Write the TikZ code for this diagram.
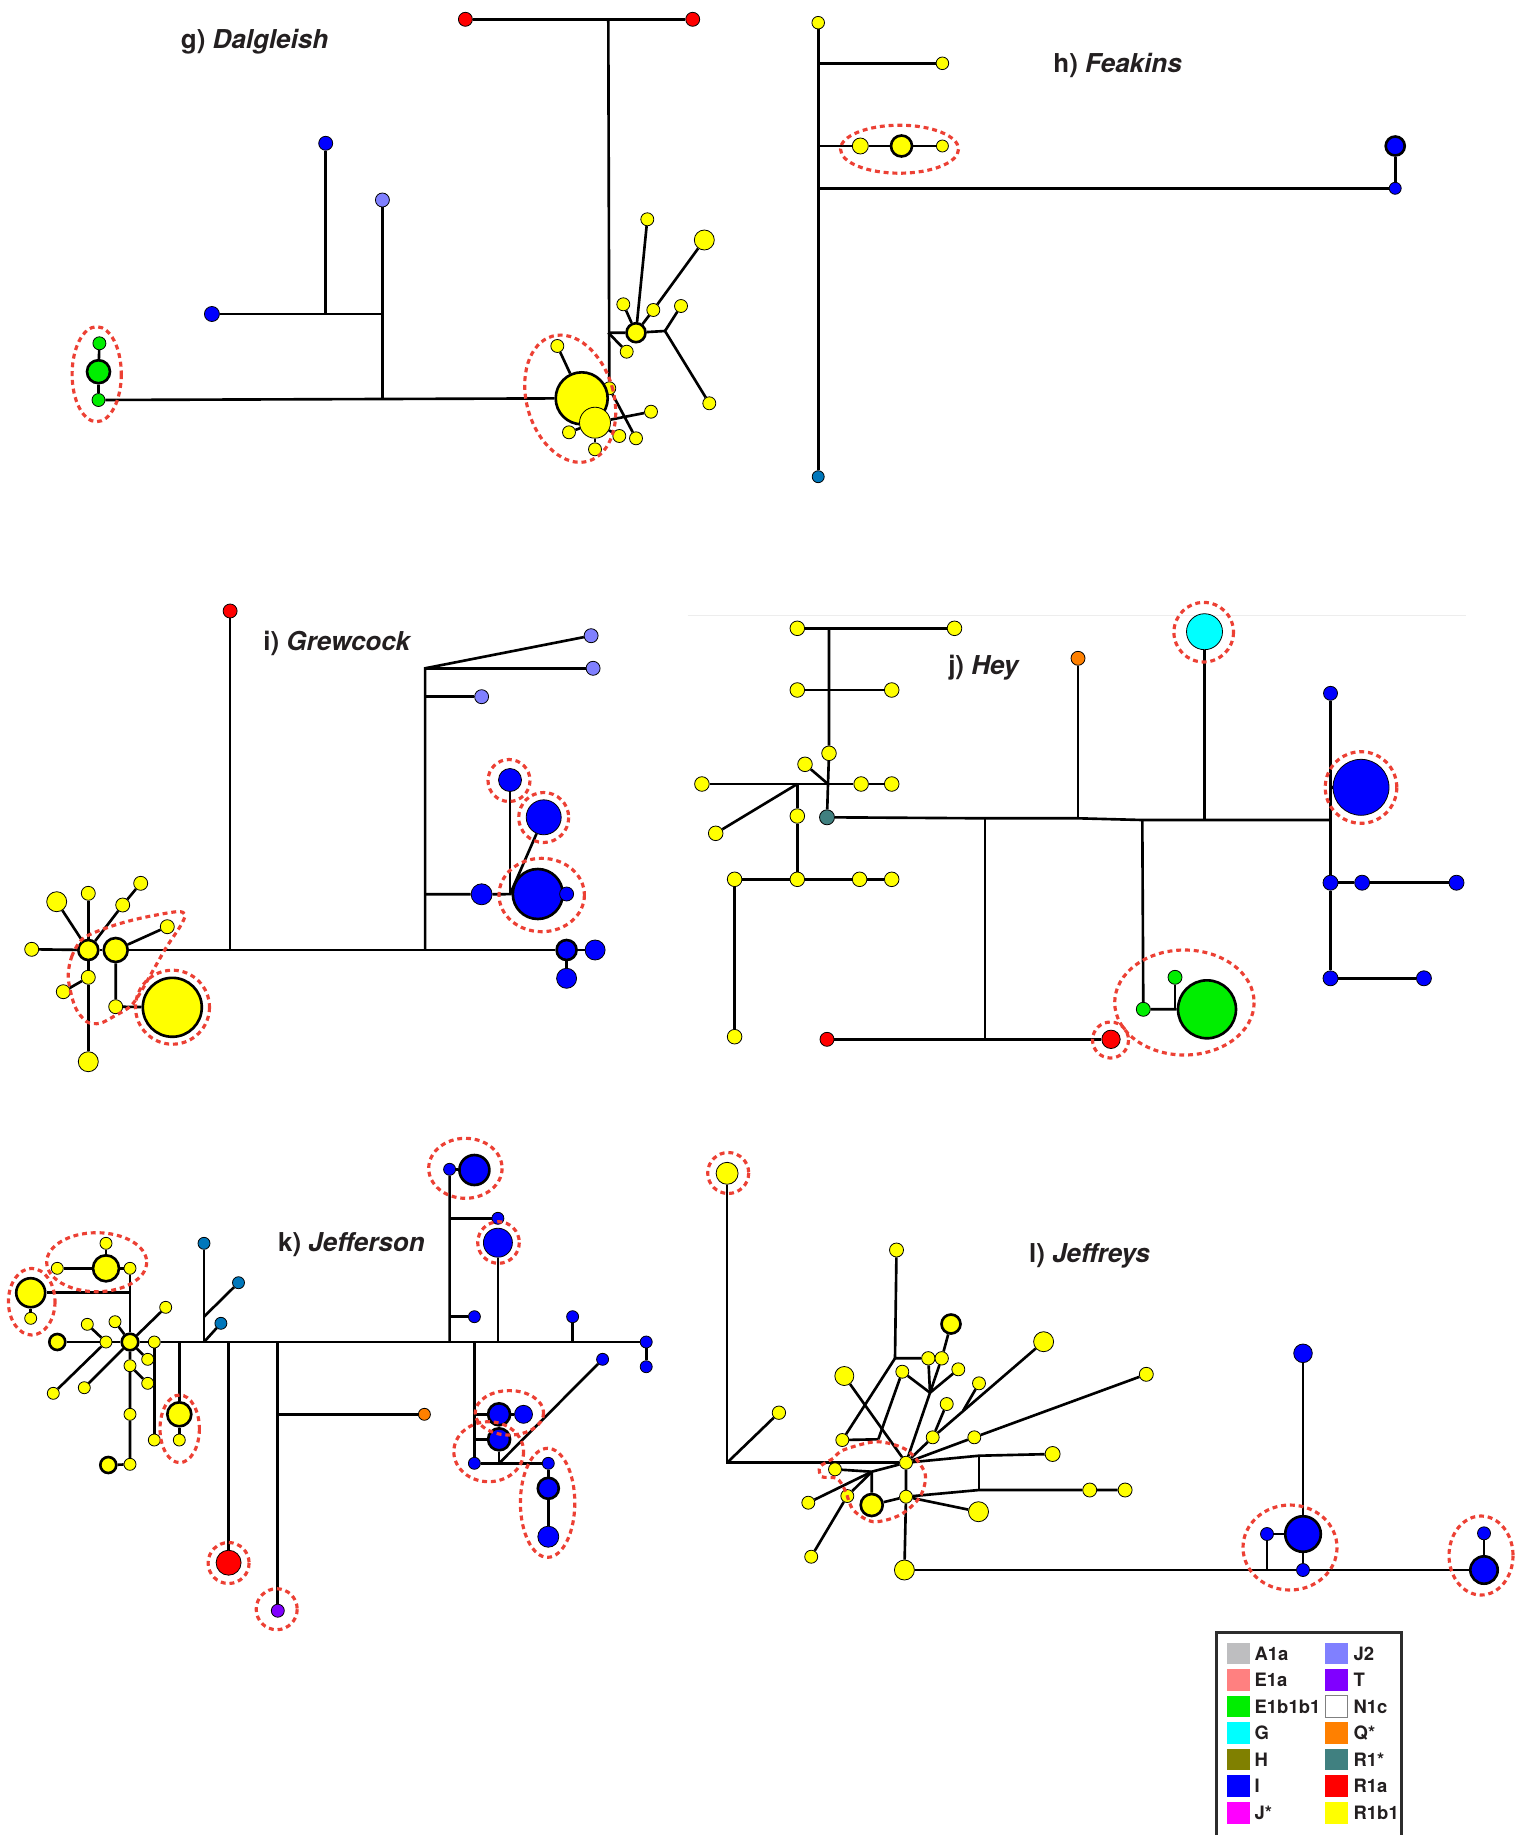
\documentclass[tikz,border=0pt]{standalone}
\usepackage{fontspec}
\setmainfont{TeX Gyre Heros}
\usetikzlibrary{backgrounds}
\definecolor{cA}{RGB}{190,190,192}
\definecolor{cE}{RGB}{255,128,128}
\definecolor{cEb}{RGB}{0,238,0}
\definecolor{cG}{RGB}{0,255,255}
\definecolor{cH}{RGB}{128,128,0}
\definecolor{cI}{RGB}{0,0,255}
\definecolor{cJs}{RGB}{255,0,255}
\definecolor{cJt}{RGB}{128,128,255}
\definecolor{cT}{RGB}{128,0,255}
\definecolor{cN}{RGB}{255,255,255}
\definecolor{cQ}{RGB}{255,128,0}
\definecolor{cRs}{RGB}{64,128,128}
\definecolor{cRa}{RGB}{255,0,0}
\definecolor{cRb}{RGB}{255,255,0}
\definecolor{cSt}{RGB}{0,119,187}
\definecolor{ringred}{RGB}{236,64,52}
\definecolor{ink}{RGB}{35,31,32}

\begin{document}
\begin{tikzpicture}[x=0.02cm, y=-0.02cm]
  \tikzset{hap/.style={circle, draw=black, line width=0.45pt, inner sep=0pt, minimum size=#1*0.04cm},
    bd/.style={line width=1.5pt},
    yel/.style={hap=#1, fill=cRb}, yel/.default=6.5,
    blu/.style={hap=#1, fill=cI}, blu/.default=6.5,
    rda/.style={hap=#1, fill=cRa}, rda/.default=7,
    grn/.style={hap=#1, fill=cEb}, grn/.default=6.5,
    cya/.style={hap=#1, fill=cG}, cya/.default=7,
    orn/.style={hap=#1, fill=cQ}, orn/.default=6.5,
    tea/.style={hap=#1, fill=cRs}, tea/.default=7,
    jtw/.style={hap=#1, fill=cJt}, jtw/.default=7,
    pur/.style={hap=#1, fill=cT}, pur/.default=6.5,
    stb/.style={hap=#1, fill=cSt}, stb/.default=6,
    link/.style={line width=1.5pt},
    ring/.style={draw=ringred, line width=1.8pt, dash pattern=on 2.8pt off 2.2pt},
    title/.style={anchor=west, inner sep=0pt, text=ink, font=\fontsize{14.8}{17}\selectfont\bfseries},
    swatch/.style={minimum width=0.454cm, minimum height=0.434cm, inner sep=0pt},
    legtxt/.style={anchor=west, inner sep=0pt, text=ink, font=\fontsize{10.5}{12}\selectfont\bfseries}}
  \useasboundingbox (0,0) rectangle (1514,1835);

  \node[title] (tg) at (180.6,41.5) {g) \textit{Dalgleish}};
  \node[title] (th) at (1053,65.7) {h) \textit{Feakins}};
  \node[title] (ti) at (263,643.3) {i) \textit{Grewcock}};
  \node[title] (tj) at (947.9,667.5) {j) \textit{Hey}};
  \node[title] (tk) at (277.8,1244.7) {k) \textit{Jefferson}};
  \node[title] (tl) at (1028.8,1256.2) {l) \textit{Jeffreys}};

  \node[rda] (gR1) at (465.4,19.3) {};
  \node[rda] (gR2) at (692.7,19.3) {};
  \coordinate (gA) at (608.3,19.3);
  \node[blu=7] (gB1) at (325.7,143.3) {};
  \node[jtw] (gJ) at (382.4,200) {};
  \node[blu=7.5] (gB2) at (211.9,314) {};
  \coordinate (gC) at (325.7,314);
  \coordinate (gD) at (382.4,314);
  \coordinate (gE) at (382.4,399.1);
  \node[grn] (gG1) at (99.4,343.3) {};
  \node[grn=11.5, bd] (gG2) at (98.5,371.7) {};
  \node[grn] (gG3) at (98.5,400) {};
  \node[yel] (gY8) at (609.3,388.3) {};
  \node[yel=26, bd] (gY0) at (581.7,398.3) {};
  \node[yel] (gY1) at (557.3,346) {};
  \node[yel=15.5] (gY2) at (595,422.7) {};
  \node[yel] (gY3) at (569,432.3) {};
  \node[yel] (gY4) at (595,449.3) {};
  \node[yel] (gY5) at (619.3,436) {};
  \node[yel] (gY6) at (636,438.3) {};
  \node[yel] (gY7) at (651,411.7) {};
  \coordinate (gF) at (608.3,332.7);
  \node[yel=9.5, bd] (gH) at (636,332.7) {};
  \coordinate (gK) at (665,331);
  \node[yel] (gY9) at (623.3,304.3) {};
  \node[yel] (gY10) at (647.3,219.3) {};
  \node[yel] (gY11) at (653.3,310) {};
  \node[yel=10] (gY12) at (704.3,240) {};
  \node[yel] (gY13) at (681,306) {};
  \node[yel] (gY14) at (709.3,403.3) {};
  \node[yel] (gY15) at (626.7,351.7) {};

  \node[yel=6.3] (hY1) at (818.2,22.7) {};
  \node[stb] (hS) at (818.2,476.7) {};
  \coordinate (hA) at (818.2,63.3);
  \coordinate (hB) at (818.2,146);
  \coordinate (hC) at (818.2,188.3);
  \node[yel=6.3] (hY2) at (942.4,63.3) {};
  \node[yel=8] (hY3) at (860.3,146) {};
  \node[yel=10.5, bd] (hY4) at (901.5,146) {};
  \node[yel=6] (hY5) at (942.4,146) {};
  \node[blu=6] (hB1) at (1395.2,188.3) {};
  \node[blu=9.5, bd] (hB2) at (1395.2,146) {};

  \node[rda] (iR) at (230.1,611) {};
  \coordinate (iA) at (230.1,950);
  \coordinate (iB) at (425.1,950);
  \coordinate (iC) at (425.1,668.3);
  \coordinate (iD) at (425.1,696.7);
  \coordinate (iE) at (425.1,894.3);
  \node[jtw] (iJ1) at (591.1,635.7) {};
  \node[jtw] (iJ2) at (593.1,668.3) {};
  \node[jtw] (iJ3) at (481.6,696.7) {};
  \node[blu=10.5] (iB1) at (481.6,894.3) {};
  \coordinate (iF) at (510,894.3);
  \node[blu=25, bd] (iB0) at (537.8,894) {};
  \node[blu=7] (iB2) at (566.6,894) {};
  \node[blu=11.5] (iB3) at (510,780) {};
  \node[blu=17.5] (iB4) at (543.7,817.3) {};
  \node[blu=10, bd] (iB5) at (566.6,950) {};
  \node[blu=10] (iB6) at (595.1,950) {};
  \node[blu=10] (iB7) at (566.6,978.3) {};
  \node[yel=10, bd] (iH1) at (88.3,950) {};
  \node[yel=12, bd] (iH2) at (115.7,950) {};
  \node[yel=7] (iY1) at (31.7,949.3) {};
  \node[yel=10] (iY2) at (56.7,901.7) {};
  \node[yel=7] (iY3) at (88.3,893.3) {};
  \node[yel=7] (iY4) at (122.7,905) {};
  \node[yel=7] (iY5) at (140.7,883.3) {};
  \node[yel=7] (iY6) at (167.3,926.7) {};
  \node[yel=7] (iY7) at (88.3,977.3) {};
  \node[yel=7] (iY8) at (63.3,991.7) {};
  \node[yel=10] (iY9) at (88.3,1061.7) {};
  \node[yel=7] (iY10) at (115.7,1006.7) {};
  \node[yel=29.5, bd] (iY0) at (172.3,1007.3) {};

  \node[yel=7.3] (jY1) at (797.3,628.3) {};
  \node[yel=7.3] (jY2) at (954.5,628.3) {};
  \coordinate (jA) at (829,628.3);
  \node[yel=7.3] (jY3) at (797.3,690) {};
  \node[yel=7.3] (jY4) at (891.7,690) {};
  \node[yel=7.3] (jY5) at (829,753.3) {};
  \coordinate (jC) at (828,784);
  \node[yel=7.3] (jY6) at (805,764.3) {};
  \node[yel=7.3] (jY7) at (701.9,784) {};
  \node[yel=7.3] (jY8) at (861.1,784) {};
  \node[yel=7.3] (jY9) at (891.7,784) {};
  \coordinate (jD) at (797.3,784);
  \node[yel=7.3] (jY10) at (715.7,833.3) {};
  \node[yel=7.3] (jY11) at (797.3,816) {};
  \node[yel=7.3] (jY12) at (797.3,879.3) {};
  \node[yel=7.3] (jY13) at (734.6,879.3) {};
  \node[yel=7.3] (jY14) at (859.6,879.3) {};
  \node[yel=7.3] (jY15) at (891.7,879.3) {};
  \node[yel=7.3] (jY16) at (734.6,1036.7) {};
  \node[tea=7.5] (jT) at (827,817.3) {};
  \coordinate (jE) at (985.1,818.3);
  \coordinate (jF) at (1078,818.3);
  \coordinate (jG) at (1142.3,820);
  \coordinate (jH) at (1204.5,820);
  \coordinate (jK) at (1330.5,820);
  \node[orn=7] (jO) at (1078,658.3) {};
  \node[cya=18] (jC1) at (1204.5,631.7) {};
  \coordinate (jL) at (985.1,1039.3);
  \node[rda=7] (jR1) at (827,1039.3) {};
  \node[rda=9.2] (jR2) at (1111,1039.3) {};
  \node[grn=7] (jG1) at (1143.3,1009.3) {};
  \node[grn=29, bd] (jG0) at (1207,1009.3) {};
  \node[grn=7] (jG2) at (1175,977.3) {};
  \coordinate (jM) at (1175,1009.3);
  \node[blu=7] (jB1) at (1330.5,693.3) {};
  \node[blu=28] (jB0) at (1361,787.3) {};
  \coordinate (jN) at (1330.5,787.3);
  \node[blu=7.5] (jB2) at (1330.5,882.7) {};
  \node[blu=7.5] (jB3) at (1362.1,882.7) {};
  \node[blu=7.5] (jB4) at (1456.5,882.7) {};
  \node[blu=7.5] (jB5) at (1330.5,978.3) {};
  \node[blu=7.5] (jB6) at (1423.9,978.3) {};

  \node[yel=8.3, bd] (kH) at (130,1342) {};
  \node[yel=6] (kY1) at (106,1342) {};
  \node[yel=8, bd] (kY2) at (57.3,1342) {};
  \node[yel=6] (kY3) at (87.3,1324.3) {};
  \node[yel=6] (kY4) at (115,1321.7) {};
  \node[yel=6] (kY5) at (165.7,1307.3) {};
  \node[yel=6] (kY6) at (154.3,1342) {};
  \node[yel=6] (kY7) at (147.7,1359.3) {};
  \node[yel=6] (kY8) at (130,1365.7) {};
  \node[yel=6] (kY9) at (147.7,1383.3) {};
  \node[yel=6] (kY10) at (53.3,1393.3) {};
  \node[yel=6] (kY11) at (84.3,1387.7) {};
  \node[yel=6] (kY12) at (130,1414.3) {};
  \node[yel=6] (kY13) at (130,1464.3) {};
  \node[yel=8, bd] (kY14) at (108.3,1465) {};
  \node[yel=6] (kY15) at (154.3,1440) {};
  \coordinate (kA) at (179.3,1342);
  \node[yel=12, bd] (kY16) at (179.3,1414.3) {};
  \node[yel=6] (kY17) at (179.3,1440) {};
  \node[yel=6] (kY18) at (130,1268.3) {};
  \coordinate (kB) at (130,1292.7);
  \node[yel=14.5, bd] (kY19) at (30.7,1292.7) {};
  \node[yel=6] (kY20) at (30.7,1318.3) {};
  \node[yel=6] (kY21) at (57.3,1268.3) {};
  \node[yel=13, bd] (kY22) at (106,1268.3) {};
  \node[yel=6] (kY23) at (106,1243.3) {};
  \node[stb] (kS1) at (204,1243.3) {};
  \coordinate (kC) at (204,1342);
  \coordinate (kD) at (204,1316.7);
  \node[stb] (kS2) at (238.5,1282.7) {};
  \node[stb] (kS3) at (220.9,1323.3) {};
  \coordinate (kE) at (228.6,1342);
  \node[rda=12.5] (kR) at (228.6,1562.7) {};
  \coordinate (kF) at (277.8,1342);
  \node[pur] (kP) at (277.8,1610.7) {};
  \coordinate (kG) at (277.8,1414.3);
  \node[orn=6] (kO) at (424.4,1414.3) {};
  \coordinate (kI) at (449.6,1342);
  \node[blu=6] (kB1) at (449.6,1169.3) {};
  \node[blu=15, bd] (kB2) at (474.4,1170) {};
  \coordinate (kJ) at (449.6,1218.3);
  \node[blu=6] (kB3) at (497.9,1218.3) {};
  \coordinate (kK) at (449.6,1316.7);
  \node[blu=6] (kB4) at (474.4,1316.7) {};
  \coordinate (kL) at (497.9,1342);
  \node[blu=14.5] (kB5) at (497.9,1242.7) {};
  \coordinate (kM) at (572.6,1342);
  \node[blu=6] (kB6) at (572.6,1316.7) {};
  \node[blu=6] (kB7) at (646.2,1342) {};
  \node[blu=6] (kB8) at (646.2,1366.7) {};
  \coordinate (kN) at (474.4,1342);
  \node[blu=6] (kB9) at (474.4,1463.3) {};
  \coordinate (kP1) at (474.4,1414.3);
  \node[blu=11, bd] (kB10) at (499.1,1414.3) {};
  \node[blu=9] (kB11) at (523.5,1414.3) {};
  \coordinate (kP2) at (474.4,1439.3);
  \node[blu=11, bd] (kB12) at (499.1,1439.3) {};
  \coordinate (kQ) at (499.1,1463.3);
  \node[blu=6] (kB13) at (548.3,1463.3) {};
  \node[blu=6] (kB14) at (602.6,1359.3) {};
  \node[blu=10.5, bd] (kB15) at (548.3,1488.3) {};
  \node[blu=10.5] (kB16) at (548.3,1536.7) {};

  \node[yel=11] (lY0) at (727.1,1173.3) {};
  \coordinate (lA) at (727.1,1462.7);
  \node[yel=6.7] (lY1) at (778.9,1412.7) {};
  \node[yel=6.5] (lH1) at (906,1462.7) {};
  \node[yel=6.5] (lH2) at (906,1496.7) {};
  \node[yel=10] (lY2) at (904.4,1570) {};
  \node[blu=6.5] (lB1) at (1303,1570) {};
  \coordinate (lC) at (1267,1570);
  \node[blu=13.7, bd] (lB2) at (1484,1570) {};
  \node[blu=6.5] (lB3) at (1267,1534) {};
  \node[blu=17.8, bd] (lB4) at (1303,1534) {};
  \node[blu=9.3] (lB5) at (1303,1353.3) {};
  \node[blu=6.5] (lB6) at (1484,1533.3) {};
  \node[yel=7] (lY3) at (896.5,1250) {};
  \coordinate (lD) at (895,1358.3);
  \node[yel=6.7] (lY4) at (928.3,1358.3) {};
  \node[yel=6.7] (lY5) at (941.7,1358.3) {};
  \node[yel=9.5, bd] (lY6) at (951,1324) {};
  \node[yel=9.5] (lY7) at (844.3,1376) {};
  \node[yel=6.5] (lY8) at (902.3,1371.7) {};
  \node[yel=6.5] (lY9) at (958.3,1369.3) {};
  \coordinate (lE) at (930,1392.7);
  \node[yel=6.5] (lY10) at (979,1383.3) {};
  \node[yel=6.5] (lY11) at (946.7,1404) {};
  \node[yel=6.5] (lY12) at (932.7,1437.3) {};
  \node[yel=6.5] (lY13) at (974.3,1437.3) {};
  \node[yel=6.5] (lY14) at (842.3,1440) {};
  \coordinate (lF) at (878.3,1439.3);
  \node[yel=6.5] (lY15) at (835,1469.3) {};
  \coordinate (lK) at (871.7,1471.7);
  \node[yel=11, bd] (lY16) at (871.7,1505) {};
  \node[yel=6.5] (lY17) at (847.3,1496) {};
  \node[yel=6.5] (lY18) at (808.3,1502.7) {};
  \node[yel=6.5] (lY19) at (811.2,1556.7) {};
  \node[yel=10] (lY20) at (978.5,1511.7) {};
  \node[yel=10] (lY21) at (1043.6,1341.7) {};
  \coordinate (lG) at (963.3,1410.4);
  \node[yel=7] (lY22) at (1146.3,1374.3) {};
  \coordinate (lJ2) at (979,1455.7);
  \node[yel=7.5] (lY23) at (1052.6,1454) {};
  \coordinate (lJ3) at (979,1490);
  \node[yel=7] (lY24) at (1089.7,1490) {};
  \node[yel=7] (lY25) at (1125.1,1490) {};

  \begin{pgfonlayer}{background}
  \begin{scope}[link]
    \draw (gR1) -- (gR2);
    \draw (gA) -- (gY8);
    \draw (gF) -- (gH) -- (gK);
    \draw (gH) -- (gY9);
    \draw (gH) -- (gY10);
    \draw (gH) -- (gY11) -- (gY12);
    \draw (gK) -- (gY13);
    \draw (gK) -- (gY14);
    \draw (gF) -- (gY15);
    \draw (gG3) -- (gY0);
    \draw (gG1) -- (gG2) -- (gG3);
    \draw (gE) -- (gJ);
    \draw (gB2) -- (gD);
    \draw (gC) -- (gB1);
    \draw (gY0) -- (gY1);
    \draw (gY2) -- (gY7);
    \draw (gY8) -- (gY6);
    \draw (gY2) -- (gY3);
    \draw (gY2) -- (gY4);
    \draw (gY2) -- (gY5);

    \draw (hY1) -- (hS);
    \draw (hA) -- (hY2);
    \draw (hB) -- (hY3) -- (hY4) -- (hY5);
    \draw (hC) -- (hB1) -- (hB2);

    \draw (iH2) -- (iB5);
    \draw (iR) -- (iA);
    \draw (iB) -- (iC) -- (iJ1);
    \draw (iC) -- (iJ2);
    \draw (iD) -- (iJ3);
    \draw (iE) -- (iB1) -- (iB0);
    \draw (iF) -- (iB3);
    \draw (iF) -- (iB4);
    \draw (iB5) -- (iB6);
    \draw (iB5) -- (iB7);
    \draw (iH1) -- (iH2);
    \draw (iY1) -- (iH1);
    \draw (iY2) -- (iH1);
    \draw (iY3) -- (iH1);
    \draw (iH1) -- (iY4) -- (iY5);
    \draw (iH2) -- (iY6);
    \draw (iH1) -- (iY7) -- (iY9);
    \draw (iY8) -- (iY7);
    \draw (iH2) -- (iY10) -- (iY0);

    \draw (jY1) -- (jY2);
    \draw (jA) -- (jY5) -- (jC);
    \draw (jY3) -- (jY4);
    \draw (jY6) -- (jC);
    \draw (jY7) -- (jY8) -- (jY9);
    \draw (jD) -- (jY10);
    \draw (jD) -- (jY11) -- (jY12);
    \draw (jY13) -- (jY12) -- (jY14) -- (jY15);
    \draw (jY13) -- (jY16);
    \draw (jC) -- (jT);
    \draw (jT) -- (jE) -- (jF) -- (jG) -- (jK);
    \draw (jF) -- (jO);
    \draw (jH) -- (jC1);
    \draw (jE) -- (jL);
    \draw (jR1) -- (jR2);
    \draw (jG) -- (jG1) -- (jG0);
    \draw (jM) -- (jG2);
    \draw (jB1) -- (jB2) -- (jB5);
    \draw (jN) -- (jB0);
    \draw (jB2) -- (jB3) -- (jB4);
    \draw (jB5) -- (jB6);
    \draw[black!7, line width=0.5pt] (687.7,615) -- (1465.7,615);

    \draw (kY2) -- (kY1) -- (kH) -- (kY6) -- (kB7) -- (kB8);
    \draw (kY3) -- (kY1);
    \draw (kY4) -- (kH);
    \draw (kY5) -- (kH);
    \draw (kY7) -- (kH);
    \draw (kH) -- (kY8) -- (kY12) -- (kY13) -- (kY14);
    \draw (kY8) -- (kY9);
    \draw (kY10) -- (kY1);
    \draw (kY11) -- (kH);
    \draw (kY6) -- (kY15);
    \draw (kA) -- (kY16) -- (kY17);
    \draw (kH) -- (kY18);
    \draw (kB) -- (kY19) -- (kY20);
    \draw (kY21) -- (kY22) -- (kY18);
    \draw (kY22) -- (kY23);
    \draw (kC) -- (kS1);
    \draw (kD) -- (kS2);
    \draw (kC) -- (kS3);
    \draw (kE) -- (kR);
    \draw (kF) -- (kP);
    \draw (kG) -- (kO);
    \draw (kI) -- (kB1) -- (kB2);
    \draw (kJ) -- (kB3);
    \draw (kK) -- (kB4);
    \draw (kL) -- (kB5);
    \draw (kM) -- (kB6);
    \draw (kN) -- (kB9) -- (kB13);
    \draw (kP1) -- (kB10) -- (kB11);
    \draw (kP2) -- (kB12) -- (kQ);
    \draw (kQ) -- (kB14);
    \draw (kB13) -- (kB15) -- (kB16);

    \draw (lY0) -- (lA) -- (lH1);
    \draw (lA) -- (lY1);
    \draw (lH1) -- (lH2) -- (lY2);
    \draw (lY2) -- (lB1) -- (lB2);
    \draw (lC) -- (lB3) -- (lB4) -- (lB1);
    \draw (lB5) -- (lB4);
    \draw (lB6) -- (lB2);
    \draw (lY3) -- (lD) -- (lY4) -- (lY5);
    \draw (lD) -- (lY14) -- (lF);
    \draw (lY7) -- (lH1);
    \draw (lY8) -- (lF);
    \draw (lY5) -- (lY6);
    \draw (lE) -- (lY4);
    \draw (lE) -- (lY5);
    \draw (lE) -- (lY8);
    \draw (lE) -- (lY9);
    \draw (lE) -- (lH1);
    \draw (lY11) -- (lY12) -- (lH1);
    \draw (lY21) -- (lY12);
    \draw (lY10) -- (lG);
    \draw (lH1) -- (lY13) -- (lY22);
    \draw (lH1) -- (lJ2) -- (lY23);
    \draw (lJ2) -- (lJ3);
    \draw (lH2) -- (lJ3) -- (lY24) -- (lY25);
    \draw (lY15) -- (lK) -- (lH1);
    \draw (lK) -- (lY16) -- (lH2);
    \draw (lK) -- (lY18);
    \draw (lK) -- (lY17) -- (lY19);
    \draw (lH2) -- (lY20);
  \end{scope}
  \end{pgfonlayer}

  \draw[ring] (96.7,374.2) ellipse [x radius=24.6, y radius=47.5];
  \draw[ring, rotate around={16:(570.2,398.7)}] (570.2,398.7) ellipse [x radius=43.5, y radius=65];
  \draw[ring] (899.5,149.2) ellipse [x radius=59, y radius=24];
  \draw[ring] (509,780.5) circle [radius=21];
  \draw[ring] (543.7,817.5) circle [radius=25];
  \draw[ring] (541.7,895) ellipse [x radius=42.7, y radius=36.7];
  \draw[ring] (172.5,1007.2) circle [radius=37];
  \draw[ring] plot[smooth cycle] coordinates {(68.3,978.3) (71.7,956.7) (83.3,938.3) (110,926.7) (140,918.3) (176.7,911.7) (185,915) (180,926.7) (166.7,946.7) (153.3,970) (140,993.3) (130,1006.7) (113.3,1016.7) (100,1023.3) (86.7,1021.7) (75,1006.7)};
  \draw[ring] (1203.7,632.2) circle [radius=29.8];
  \draw[ring] (1110.5,1040) circle [radius=18];
  \draw[ring] (1184.4,1002.5) ellipse [x radius=69.7, y radius=52.5];
  \draw[ring] (1361,787.5) circle [radius=35.8];
  \draw[ring] (96.7,1262.2) ellipse [x radius=50, y radius=29.5];
  \draw[ring] (31.7,1301.7) ellipse [x radius=23.3, y radius=33.3];
  \draw[ring] (179.7,1428.8) ellipse [x radius=19.7, y radius=33.8];
  \draw[ring] (228.6,1563) circle [radius=20.5];
  \draw[ring] (276.7,1609.2) circle [radius=20.5];
  \draw[ring] (465.4,1168.3) ellipse [x radius=36.7, y radius=30];
  \draw[ring] (498.5,1242.5) circle [radius=20.8];
  \draw[ring] (509.4,1412.8) ellipse [x radius=34.2, y radius=22.2];
  \draw[ring] (488.7,1451.7) ellipse [x radius=34.9, y radius=30];
  \draw[ring] (547.6,1502.8) ellipse [x radius=27.2, y radius=54.5];
  \draw[ring] (728.2,1173) circle [radius=20.5];
  \draw[ring] plot[smooth cycle] coordinates {(843.3,1450) (876.7,1441.7) (906.7,1450) (925,1473.3) (920,1496.7) (900,1515) (873.3,1521.7) (853.3,1510) (845,1490) (836.7,1478.3) (821.7,1476.7) (820,1466.7) (833.3,1458.3)};
  \draw[ring] (1290,1547.5) ellipse [x radius=47, y radius=42.5];
  \draw[ring] (1481,1555.5) ellipse [x radius=32, y radius=39.5];

  \draw[line width=1.6pt, draw={rgb,255:red,45;green,45;blue,45}] (1216.7,1835) |- (1401.7,1632.7) -- (1401.7,1835);
  \foreach \lab/\col/\edge [count=\i] in {A1a/cA/none, E1a/cE/none, E1b1b1/cEb/none, G/cG/none, H/cH/none, I/cI/none, J*/cJs/none}{
    \node[swatch, fill=\col, draw=\edge] (sa\i) at (1238.7,{1653.5+26.53*(\i-1)}) {};
    \node[legtxt] (la\i) at (1254.3,{1653.5+26.53*(\i-1)}) {\lab};
  }
  \foreach \lab/\col/\edge [count=\i] in {J2/cJt/none, T/cT/none, N1c/cN/gray, Q*/cQ/none, R1*/cRs/none, R1a/cRa/none, R1b1/cRb/none}{
    \node[swatch, fill=\col, draw=\edge] (sb\i) at (1336.3,{1653.5+26.53*(\i-1)}) {};
    \node[legtxt] (lb\i) at (1353.3,{1653.5+26.53*(\i-1)}) {\lab};
  }
\end{tikzpicture}
\end{document}
